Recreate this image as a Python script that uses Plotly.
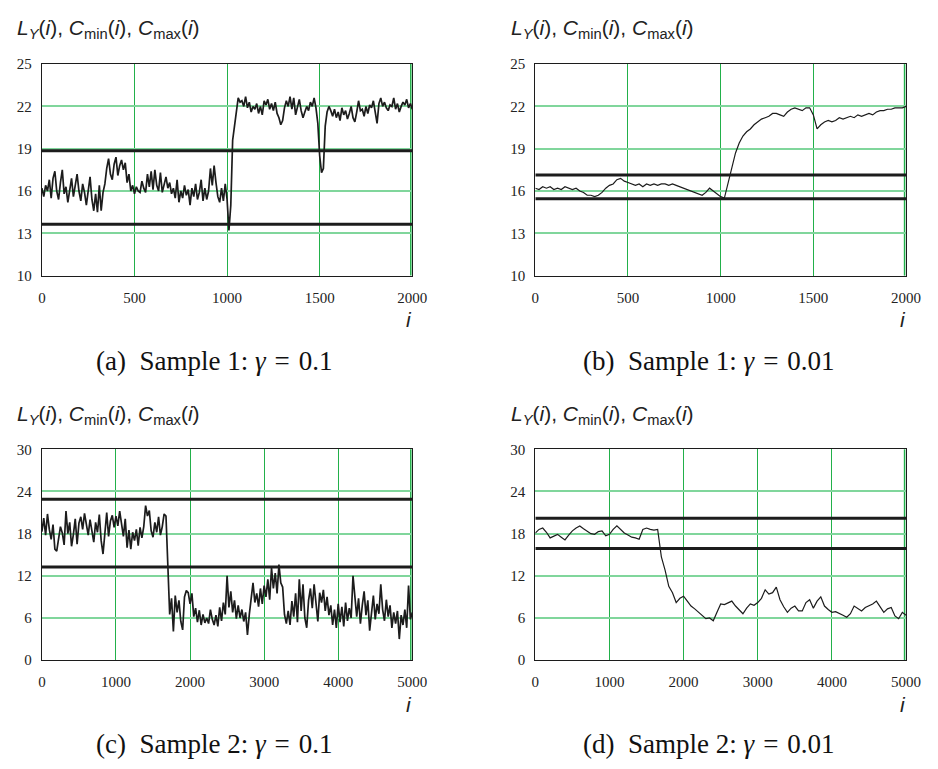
import numpy as np
import plotly.graph_objects as go

W, H = 938, 769

# ---------------- data ----------------
# Panel (a): Sample 1, gamma = 0.1, i = 0..2000 step 10
a_vals = [
    16.2, 15.6, 16.4, 16.0, 16.8, 15.5, 16.9, 17.4, 16.0, 15.4,
    16.6, 17.5, 15.8, 16.3, 15.2, 16.0, 16.9, 15.6, 16.4, 17.2,
    16.0, 15.3, 16.5, 15.9, 15.0, 16.2, 17.0, 15.4, 14.6, 15.8,
    14.5, 16.4, 14.6, 15.9, 16.5, 17.6, 18.3, 17.2, 16.8, 17.9,
    18.4, 17.1, 17.8, 18.2, 17.5, 18.0, 16.6, 17.2, 16.0, 16.4,
    15.8, 16.3, 16.0, 15.9, 16.7, 16.2, 15.9, 17.2, 16.3, 17.4,
    16.1, 17.5, 16.4, 16.0, 17.3, 15.9, 16.4, 17.0, 16.2, 16.6,
    15.8, 16.2, 15.5, 16.8, 15.2, 16.0, 15.5, 16.4, 15.7, 16.1,
    15.0, 16.2, 15.6, 16.5, 15.4, 15.9, 16.8, 15.3, 16.2, 15.4,
    16.0, 17.6, 16.4, 17.8, 16.6, 15.6, 15.2, 16.2, 15.3, 16.5,
    15.4,
    13.2, 15.0, 19.6, 20.6, 21.6, 22.6, 22.3, 22.4, 22.0,
    22.7, 21.9, 22.3, 21.6, 22.0, 21.8, 22.2, 21.5, 22.0, 21.4,
    22.4, 22.1, 22.5, 21.8, 22.2, 21.7, 22.3, 21.5, 21.2, 20.7,
    21.0, 21.9, 22.4, 22.0, 22.7, 21.8, 22.6, 21.4, 21.9, 22.5,
    21.7, 21.2, 21.6, 22.0, 21.7, 22.3, 22.0, 22.6, 21.9, 20.8,
    18.5, 17.3, 17.6, 20.6, 21.6, 22.0, 21.7, 21.3, 21.8, 21.2,
    21.6, 21.0, 21.9, 21.4, 21.7, 21.1, 21.5, 22.0, 21.2, 20.9,
    21.6, 22.4, 21.7, 21.8, 21.3, 22.0, 21.5, 22.1, 21.9, 22.4,
    21.6, 20.8, 22.2, 22.6, 22.0, 22.3, 21.9, 21.7, 22.1, 22.0,
    22.6, 21.8, 22.2, 21.6, 22.0, 22.3, 22.1, 22.5, 21.9, 22.2,
    21.8,
]
a_cmin, a_cmax = 13.65, 18.85

# Panel (b): Sample 1, gamma = 0.01, i = 0..2000 step 20
b_vals = [
    16.2, 16.1, 16.3, 16.2, 16.3, 16.1, 16.2, 16.1, 16.3, 16.2,
    16.1, 16.2, 16.0, 15.9, 15.7, 15.7, 15.6, 15.7, 15.9, 16.2,
    16.4, 16.5, 16.8, 16.9, 16.7, 16.6, 16.5, 16.4, 16.5, 16.3,
    16.5, 16.4, 16.5, 16.4, 16.5, 16.5, 16.4, 16.5, 16.4, 16.3,
    16.2, 16.1, 16.0, 15.9, 15.8, 15.7, 15.9, 16.2, 16.0, 15.8,
    15.6, 15.5, 16.6, 17.8, 18.7, 19.4, 19.9, 20.2, 20.4, 20.7,
    20.9, 21.1, 21.2, 21.3, 21.5, 21.5, 21.4, 21.3, 21.6, 21.8,
    21.9, 21.8, 21.7, 21.9, 21.9, 21.4, 20.4, 20.7, 20.9, 21.0,
    20.9, 21.0, 21.2, 21.1, 21.2, 21.3, 21.2, 21.4, 21.3, 21.4,
    21.5, 21.4, 21.6, 21.7, 21.7, 21.8, 21.8, 21.9, 21.9, 21.9,
    22.0,
]
b_cmin, b_cmax = 15.45, 17.13

# Panel (c): Sample 2, gamma = 0.1, i = 0..5000 step 25
c_vals = [
    18.3, 20.2, 17.8, 20.8, 18.6, 17.2, 19.3, 15.8, 15.5, 17.6,
    19.0, 18.1, 16.4, 21.2, 18.0, 19.6, 16.2, 17.9, 20.1, 16.5,
    19.5, 20.4, 18.6, 20.9, 19.2, 17.8, 20.0, 18.4, 16.8, 19.6,
    18.2, 20.7, 17.0, 15.1, 18.8, 21.0, 17.6, 19.8, 20.6, 18.9,
    20.5, 19.1, 21.2, 19.5, 17.6, 20.1, 16.0, 18.5, 15.8, 18.2,
    17.0, 18.6, 16.3, 18.9, 17.4, 19.0, 22.0, 20.5, 21.3, 18.4,
    17.5, 19.6, 18.2, 20.4, 17.8, 19.0, 20.8, 20.5, 11.8, 6.5,
    8.8, 4.1, 9.2, 6.8, 8.5, 5.5, 4.3, 9.0, 9.9, 9.6,
    8.0, 9.5, 6.2, 7.4, 5.4, 7.1, 5.0, 6.5, 5.3, 6.0,
    5.2, 7.2, 5.8, 5.0, 6.4, 4.8, 7.5, 5.6, 8.2, 6.5,
    12.0, 7.5, 9.8, 6.8, 8.5, 5.9, 7.8, 6.0, 7.2, 5.5,
    6.8, 3.6, 6.5, 9.0, 11.0, 8.2, 9.5, 7.6, 10.2, 8.0,
    10.6, 9.0, 11.5, 8.6, 13.1, 10.2, 12.4, 9.5, 13.6, 11.0,
    10.4, 6.5, 5.2, 7.0, 5.0, 8.4, 6.2, 9.5, 5.4, 11.5,
    7.0, 10.8, 6.0, 4.6, 8.5, 10.2, 7.4, 10.8, 8.0, 5.5,
    9.6, 8.2, 10.0, 7.0, 9.0, 6.4, 7.8, 5.0, 7.2, 4.6,
    8.0, 5.4, 7.6, 4.8, 8.2, 5.6, 7.4, 6.0, 12.0, 9.0,
    6.2, 8.8, 5.2, 7.8, 9.8, 6.4, 8.5, 4.2, 7.0, 9.2,
    5.8, 8.0, 6.6, 10.8, 7.2, 5.6, 8.6, 6.2, 7.8, 4.6,
    6.8, 5.2, 7.0, 3.0, 6.4, 5.0, 7.2, 4.6, 10.6, 5.8,
    6.8,
]
c_cmin, c_cmax = 13.25, 22.9

# Panel (d): Sample 2, gamma = 0.01, i = 0..5000 step 50
d_vals = [
    18.1, 18.6, 18.8, 18.2, 17.4, 17.6, 17.9, 17.5, 17.1, 17.8,
    18.4, 18.8, 19.1, 18.7, 18.3, 18.0, 17.9, 18.3, 18.4, 17.7,
    17.9, 18.6, 19.1, 18.6, 18.1, 17.8, 17.5, 17.4, 17.2, 18.6,
    18.8, 18.6, 18.5, 18.6, 14.7, 12.8, 10.5, 9.6, 8.2, 8.8,
    9.1, 8.4, 7.7, 7.3, 6.8, 6.3, 5.9, 6.0, 5.6, 6.8,
    8.0, 7.9, 8.1, 8.4, 7.7, 7.2, 6.6, 7.4, 8.0, 7.8,
    8.2, 8.8, 10.0, 9.4, 9.6, 10.4, 8.6, 7.6, 6.8, 7.4,
    7.7, 7.0, 7.0, 8.2, 8.6, 7.4, 8.4, 9.0, 7.7, 7.2,
    6.8, 6.9, 6.7, 6.4, 6.1, 6.6, 7.7, 7.3, 7.0, 7.5,
    7.7, 8.0, 8.4, 7.6, 6.8, 7.3, 7.5, 6.3, 5.9, 6.8,
    6.4,
]
d_cmin, d_cmax = 15.9, 20.2

x_max_1, x_max_2 = 2000, 5000
y_ticks_1 = [10, 13, 16, 19, 22, 25]
y_ticks_2 = [0, 6, 12, 18, 24, 30]
x_ticks_1 = [0, 500, 1000, 1500, 2000]
x_ticks_2 = [0, 1000, 2000, 3000, 4000, 5000]

captions = [
    "(a)\u2002Sample 1: <i>γ</i>\u2004=\u20040.1",
    "(b)\u2002Sample 1: <i>γ</i>\u2004=\u20040.01",
    "(c)\u2002Sample 2: <i>γ</i>\u2004=\u20040.1",
    "(d)\u2002Sample 2: <i>γ</i>\u2004=\u20040.01",
]
y_title = ("<i>L</i><sub><i>Y</i></sub>(<i>i</i>), <i>C</i><sub>min</sub>(<i>i</i>), "
           "<i>C</i><sub>max</sub>(<i>i</i>)")

# ---------------- layout geometry (pixels) ----------------
panels = [
    dict(vals=a_vals, cmin=a_cmin, cmax=a_cmax, xmax=x_max_1, yt=y_ticks_1, xt=x_ticks_1,
         x0=38.7, x1=416.7, y0=57.3, y1=273.3, noisy=True),
    dict(vals=b_vals, cmin=b_cmin, cmax=b_cmax, xmax=x_max_1, yt=y_ticks_1, xt=x_ticks_1,
         x0=542.3, x1=920.7, y0=57.3, y1=273.3, noisy=False),
    dict(vals=c_vals, cmin=c_cmin, cmax=c_cmax, xmax=x_max_2, yt=y_ticks_2, xt=x_ticks_2,
         x0=38.7, x1=416.7, y0=450.7, y1=666.0, noisy=True),
    dict(vals=d_vals, cmin=d_cmin, cmax=d_cmax, xmax=x_max_2, yt=y_ticks_2, xt=x_ticks_2,
         x0=542.3, x1=920.7, y0=450.7, y1=666.0, noisy=False),
]

fig = go.Figure()
shapes = []
annotations = []

HGRID = "#80d69c"
VGRID = "#22b04a"
INK = "#1c1c1c"
serif = "Liberation Serif, Times New Roman, serif"
sans = "Liberation Sans, Arial, sans-serif"

for k, p in enumerate(panels):
    n = k + 1
    xa = "x" if n == 1 else f"x{n}"
    ya = "y" if n == 1 else f"y{n}"
    xs = np.linspace(0, p["xmax"], len(p["vals"]))
    fig.add_trace(go.Scatter(x=xs, y=p["vals"], mode="lines", xaxis=xa, yaxis=ya,
                             line=dict(color=INK, width=1.7 if p["noisy"] else 1.2),
                             showlegend=False, hoverinfo="skip"))
    for c in (p["cmin"], p["cmax"]):
        fig.add_trace(go.Scatter(x=[0, p["xmax"]], y=[c, c], mode="lines", xaxis=xa, yaxis=ya,
                                 line=dict(color=INK, width=3), showlegend=False,
                                 hoverinfo="skip", cliponaxis=False))
    dom_x = [p["x0"] / W, p["x1"] / W]
    dom_y = [1 - p["y1"] / H, 1 - p["y0"] / H]
    axkey_x = "xaxis" if n == 1 else f"xaxis{n}"
    axkey_y = "yaxis" if n == 1 else f"yaxis{n}"
    fig.layout[axkey_x] = dict(
        domain=dom_x, range=[0, p["xmax"]], anchor=ya, tickvals=p["xt"],
        showgrid=True, gridcolor=VGRID, gridwidth=1.2, zeroline=False,
        showline=True, linecolor=INK, linewidth=1.2, mirror=True,
        ticks="", ticklabelstandoff=8,
        tickfont=dict(family=serif, size=15, color="#222"),
    )
    fig.layout[axkey_y] = dict(
        domain=dom_y, range=[p["yt"][0], p["yt"][-1]], anchor=xa, tickvals=p["yt"],
        showgrid=True, gridcolor=HGRID, gridwidth=1.6, zeroline=False,
        showline=True, linecolor=INK, linewidth=1.2, mirror=True,
        ticks="", ticklabelstandoff=6,
        tickfont=dict(family=serif, size=15, color="#222"),
    )
    shapes.append(dict(type="line", xref=f"{xa} domain", yref=f"{ya} domain",
                       x0=0.996, x1=0.996, y0=0, y1=1,
                       line=dict(color=VGRID, width=1.5), layer="below"))
    title_x = 11 if p["x0"] < 100 else 515.7
    title_y = 21 if p["y0"] < 100 else 416
    annotations.append(dict(text=y_title, xref="paper", yref="paper",
                            x=title_x / W, y=1 - title_y / H, xanchor="left", yanchor="middle",
                            showarrow=False, font=dict(family=sans, size=21, color="#222")))
    annotations.append(dict(text="<i>i</i>", xref="paper", yref="paper",
                            x=(p["x1"] - 3) / W, y=1 - (p["y1"] + 45) / H,
                            xanchor="center", yanchor="middle", showarrow=False,
                            font=dict(family=sans, size=21, color="#222")))
    cap_x = 215 if p["x0"] < 100 else 720
    cap_y = 361 if p["y0"] < 100 else 752
    annotations.append(dict(text=captions[k], xref="paper", yref="paper",
                            x=cap_x / W, y=1 - cap_y / H, xanchor="center", yanchor="middle",
                            showarrow=False, font=dict(family=serif, size=27, color="#111")))

fig.update_layout(
    width=W, height=H, margin=dict(l=0, r=0, t=0, b=0),
    paper_bgcolor="white", plot_bgcolor="white",
    font=dict(family=serif, size=15, color="#222"),
    annotations=annotations, shapes=shapes, showlegend=False,
)

fig.write_html("out.html", config={"displayModeBar": False},
               post_script="document.body.style.margin='0';")
